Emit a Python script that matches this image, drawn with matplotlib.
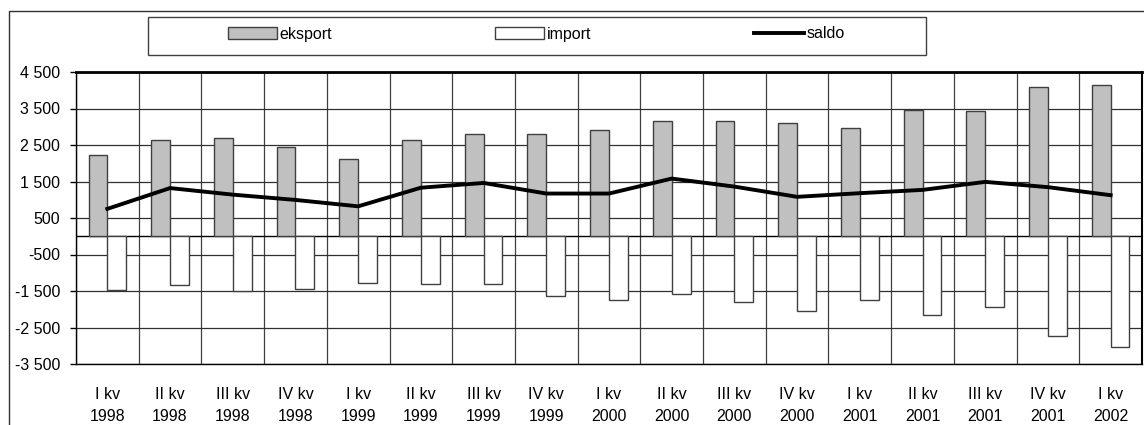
import matplotlib.pyplot as plt
from matplotlib.patches import Rectangle, Patch
from matplotlib.lines import Line2D
import numpy as np

plt.rcParams['font.family'] = ['Liberation Sans', 'DejaVu Sans']
plt.rcParams['font.size'] = 11.5

# Data (quarterly values)
quarters = ["I", "II", "III", "IV", "I", "II", "III", "IV", "I", "II", "III", "IV", "I", "II", "III", "IV", "I"]
years = ["1998", "1998", "1998", "1998", "1999", "1999", "1999", "1999", "2000", "2000", "2000", "2000",
         "2001", "2001", "2001", "2001", "2002"]
eksport = [2225, 2635, 2690, 2435, 2115, 2635, 2790, 2790, 2900, 3155, 3155, 3110, 2955, 3465, 3420, 4095, 4140]
import_ = [-1480, -1335, -1500, -1435, -1270, -1315, -1315, -1645, -1745, -1590, -1790, -2045, -1755, -2165,
           -1945, -2740, -3040]
saldo = [750, 1320, 1140, 995, 820, 1330, 1460, 1170, 1170, 1580, 1360, 1080, 1180, 1270, 1490, 1345, 1125]
yticks = [-3500, -2500, -1500, -500, 500, 1500, 2500, 3500, 4500]

W, H = 1144, 425
fig = plt.figure(figsize=(W / 100, H / 100), dpi=100)
ax = fig.add_axes([76 / W, 1 - 364 / H, (1142 - 76) / W, (364 - 72) / H])

x = np.arange(len(eksport))
labels = [q + " kv\n" + y for q, y in zip(quarters, years)]

# bars + saldo line
ax.bar(x - 0.15, eksport, width=0.3, color="#c0c0c0", edgecolor="#404040", linewidth=1, zorder=3)
ax.bar(x + 0.15, import_, width=0.3, color="white", edgecolor="#404040", linewidth=1, zorder=3)
ax.plot(x, saldo, color="black", linewidth=2.8, zorder=4)
ax.axhline(0, color="black", linewidth=1, zorder=2)

ax.set_xlim(-0.5, len(eksport) - 0.5)
ax.set_ylim(-3500, 4500)
ax.set_yticks(yticks)
ax.set_yticklabels([f"{v:,}".replace(",", " ") for v in yticks])
ax.set_xticks(x)
ax.set_xticklabels(labels, linespacing=1.6)
ax.set_xticks(np.arange(-0.5, len(eksport)), minor=True)

ax.tick_params(axis="x", which="both", length=0, pad=16.5)
ax.tick_params(axis="y", length=4.5, width=1, direction="out", pad=7)

# grid
ax.grid(axis="y", which="major", color="#303030", linewidth=0.9, zorder=0)
ax.grid(axis="x", which="minor", color="#404040", linewidth=0.9, zorder=0)
ax.set_axisbelow(True)
for s in ax.spines.values():
    s.set_color("black")
    s.set_linewidth(1)
ax.spines["top"].set_linewidth(2)
ax.spines["right"].set_linewidth(1.5)

# legend
handles = [Patch(facecolor="#c0c0c0", edgecolor="#404040", label="eksport"),
           Patch(facecolor="white", edgecolor="#404040", label="import"),
           Line2D([], [], color="black", linewidth=2.8, label="saldo")]
fig.legend(handles=handles, loc="center", bbox_to_anchor=(536 / W, 1 - 34 / H), ncol=3,
           frameon=False, handlelength=3.1, handleheight=0.7, handletextpad=0.15, columnspacing=10.2)
fig.add_artist(Rectangle((148 / W, 1 - 55 / H), (926 - 148) / W, 38 / H, transform=fig.transFigure,
                         fill=False, edgecolor="#404040", linewidth=1))

# outer chart frame
fig.add_artist(Rectangle((9 / W, -0.1), 1.2, 1.1 - 11 / H, transform=fig.transFigure,
                         fill=False, edgecolor="#303030", linewidth=1))

fig.savefig("out.png", dpi=100)
